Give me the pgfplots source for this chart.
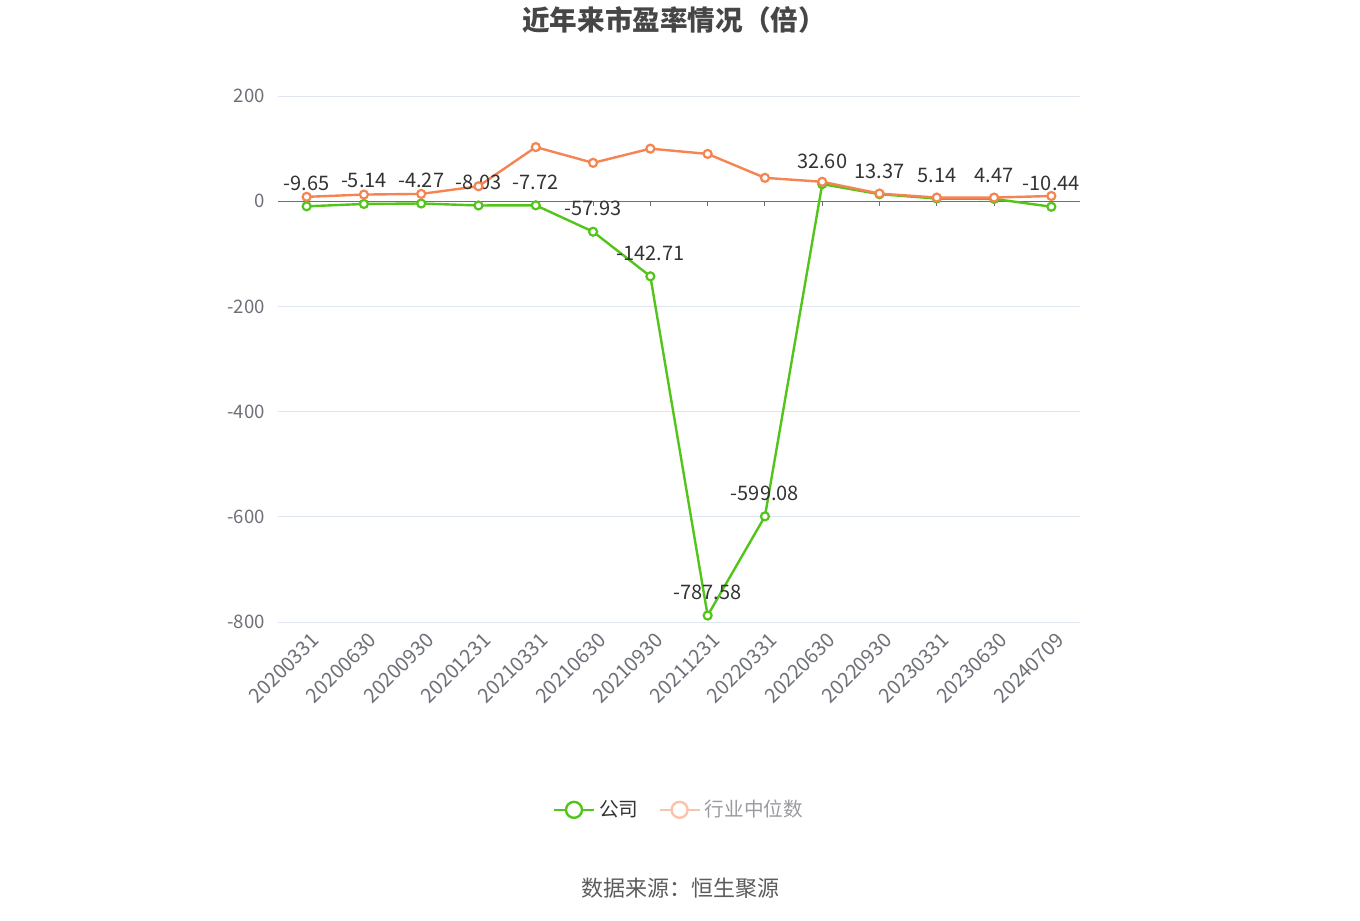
\documentclass[border=0pt]{standalone}
\usepackage{fontspec}
\setmainfont{Noto Sans CJK SC}
\usepackage{pgfplots}
\pgfplotsset{compat=1.18}
\definecolor{cgreen}{RGB}{82,196,26}
\definecolor{corange}{RGB}{245,132,82}
\definecolor{cfade}{RGB}{250,195,172}
\definecolor{ctick}{RGB}{110,112,121}
\definecolor{cgrid}{RGB}{224,230,241}
\definecolor{ctitle}{RGB}{70,70,70}
\definecolor{ctext}{RGB}{51,51,51}
\begin{document}
\begin{tikzpicture}
\path (0,0) rectangle (680pt,460pt);
\node[font=\fontsize{13.8}{15}\selectfont\bfseries, text=ctitle] at (337pt,450pt) {近年来市盈率情况（倍）};
\node[font=\fontsize{11}{12}\selectfont, text=ctext!80] at (340pt,16pt) {数据来源：恒生聚源};
\begin{axis}[
  at={(139pt,149pt)}, anchor=south west,
  scale only axis, width=401pt, height=263pt,
  xmin=-0.5, xmax=13.5, ymin=-800, ymax=200,
  ytick={-800,-600,-400,-200,0,200},
  xtick={0,...,13},
  xticklabels={20200331,20200630,20200930,20201231,20210331,20210630,20210930,20211231,20220331,20220630,20220930,20230331,20230630,20240709},
  axis x line=bottom, axis y line=left,
  x axis line style={draw=none}, y axis line style={draw=none},
  major tick length=0pt,
  ymajorgrids, grid style={cgrid, line width=0.5pt},
  /pgf/number format/assume math mode=true,
  ticklabel style={font=\fontsize{9.3}{10}\selectfont, text=ctick},
  yticklabel style={xshift=-3pt},
  xticklabel style={font=\fontsize{10}{10}\selectfont, rotate=45, anchor=north east, xshift=1.5pt, yshift=-1pt},
  clip=false,
  legend style={at={(0.501,-0.357)}, anchor=center, draw=none, fill=none, legend columns=2,
    font=\fontsize{9.8}{11}\selectfont, /tikz/every even column/.append style={column sep=8pt}},
  legend cell align=left,
]
\draw[ctick, line width=0.5pt] (axis cs:-0.5,0) -- (axis cs:13.5,0);
\pgfplotsinvokeforeach{0,...,13}{\draw[ctick, line width=0.5pt] (axis cs:#1,0) -- ([yshift=-2.5pt]axis cs:#1,0);}
\addplot[cgreen, line width=1.2pt, mark=*, mark size=2pt, mark options={fill=white, line width=1.1pt}, forget plot,
  nodes near coords, point meta=explicit symbolic,
  every node near coord/.append style={font=\fontsize{10}{11}\selectfont, text=ctext, anchor=south, yshift=4pt}]
 table[meta=lab] {
x y lab
0 -9.65 -9.65
1 -5.14 -5.14
2 -4.27 -4.27
3 -8.03 -8.03
4 -7.72 -7.72
5 -57.93 -57.93
6 -142.71 -142.71
7 -787.58 -787.58
8 -599.08 -599.08
9 32.60 32.60
10 13.37 13.37
11 5.14 5.14
12 4.47 4.47
13 -10.44 -10.44
};
\addplot[corange, line width=1.2pt, mark=*, mark size=2pt, mark options={fill=white, line width=1.1pt}, forget plot]
 coordinates {(0,8.4) (1,12.7) (2,14) (3,28.5) (4,103) (5,73) (6,100) (7,90) (8,44.5) (9,37) (10,14.6) (11,7) (12,7) (13,10)};
\addlegendimage{legend image code/.code={\draw[cgreen, line width=1.2pt] (0pt,0pt) -- (20pt,0pt); \draw[cgreen, line width=1.2pt, fill=white] (10pt,0pt) circle (4pt);}}
\addlegendentry{\textcolor{ctext}{公司}}
\addlegendimage{legend image code/.code={\draw[cfade, line width=1.2pt] (0pt,0pt) -- (20pt,0pt); \draw[cfade, line width=1.2pt, fill=white] (10pt,0pt) circle (4pt);}}
\addlegendentry{\textcolor{ctick!70}{行业中位数}}
\end{axis}
\end{tikzpicture}
\end{document}
